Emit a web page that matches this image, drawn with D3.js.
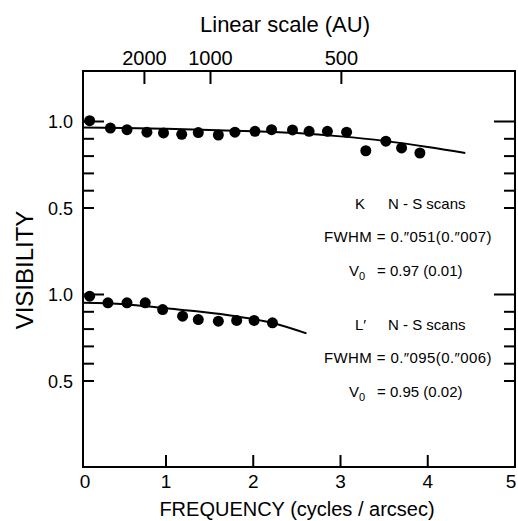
<!DOCTYPE html>
<html><head><meta charset="utf-8">
<script src="https://cdn.jsdelivr.net/npm/d3@7"></script>
<style>body{margin:0;background:#fff}svg{display:block}text{font-family:"Liberation Sans",Arial,sans-serif;fill:#000;white-space:pre}</style>
</head><body>
<script>
// ---- data ----
const freqTicks = [0, 1, 2, 3, 4, 5];
const freqInnerTicks = [1, 2, 3, 4];
const topTickLabels = ["2000", "1000", "500"];
const topTickFreqs = [0.74, 1.51, 3.01];
const visTicks = [0.5, 0.6, 0.7, 0.8, 0.9, 1.0];
const visLabels = [0.5, 1.0];

// K band N-S scans
const kFreq = [0.08,0.33,0.53,0.77,0.97,1.18,1.37,1.60,1.79,2.02,2.21,2.45,2.64,2.85,3.07,3.29,3.52,3.70,3.91];
const kVis  = [1.005,0.962,0.953,0.938,0.934,0.926,0.936,0.922,0.938,0.943,0.953,0.951,0.943,0.943,0.938,0.831,0.886,0.847,0.818];
const kFitFreq = [0,0.5,1,1.5,2,2.5,3,3.5,4,4.43];
const kFitVis  = [0.966,0.963,0.958,0.951,0.944,0.933,0.914,0.888,0.853,0.818];

// L' band N-S scans
const lFreq = [0.08,0.30,0.53,0.75,0.96,1.19,1.37,1.60,1.81,2.01,2.22];
const lVis  = [0.990,0.952,0.952,0.952,0.913,0.875,0.855,0.846,0.850,0.850,0.836];
const lFitFreq = [0,0.5,1,1.4,1.8,2.2,2.61];
const lFitVis  = [0.952,0.944,0.920,0.900,0.874,0.838,0.775];

// ---- layout ----
const W = 518, H = 521;
const L = 83, R = 515, T = 71, B = 467;

const svg = d3.select("body").append("svg").attr("width", W).attr("height", H);

const x = d3.scaleLinear().domain([0, 1, 5]).range([L, 166, R]);
const yUp = d3.scaleLinear().domain([0.5, 1.0]).range([208, 121.5]);
const yLo = d3.scaleLinear().domain([0.5, 1.0]).range([381, 294.5]);

// frame
svg.append("rect").attr("x", L).attr("y", T).attr("width", R - L).attr("height", B - T)
  .attr("fill", "none").attr("stroke", "#000").attr("stroke-width", 2);

// bottom ticks
svg.append("g").selectAll("line").data(freqInnerTicks).join("line")
  .attr("x1", d => x(d)).attr("x2", d => x(d)).attr("y1", B).attr("y2", B - 12)
  .attr("stroke", "#000").attr("stroke-width", 2);
svg.append("g").selectAll("text").data(freqTicks).join("text")
  .attr("x", d => x(d) + (d === 0 ? 2 : d === 5 ? -4 : 0)).attr("y", 488).attr("text-anchor", "middle")
  .style("font-size", "19px").text(d => d);

// top ticks
svg.append("g").selectAll("line").data(topTickFreqs).join("line")
  .attr("x1", d => x(d)).attr("x2", d => x(d)).attr("y1", T).attr("y2", T + 13)
  .attr("stroke", "#000").attr("stroke-width", 2);
svg.append("g").selectAll("text").data(topTickFreqs).join("text")
  .attr("x", d => x(d)).attr("y", 65).attr("text-anchor", "middle")
  .style("font-size", "20px").text((d, i) => topTickLabels[i]);
svg.append("text").attr("x", 285).attr("y", 32).attr("text-anchor", "middle")
  .style("font-size", "22px").text("Linear scale (AU)");

// y ticks for both panels, both sides
[yUp, yLo].forEach(y => {
  const g = svg.append("g");
  visTicks.forEach(v => {
    const len = v === 1.0 ? 21 : 11;
    g.append("line").attr("x1", L).attr("x2", L + len).attr("y1", y(v)).attr("y2", y(v))
      .attr("stroke", "#000").attr("stroke-width", 2);
    g.append("line").attr("x1", R).attr("x2", R - len).attr("y1", y(v)).attr("y2", y(v))
      .attr("stroke", "#000").attr("stroke-width", 2);
  });
  g.selectAll("text").data(visLabels).join("text")
    .attr("x", 73).attr("y", d => y(d) + 6.5).attr("text-anchor", "end")
    .style("font-size", "18px").text(d => d.toFixed(1));
});

// axis titles
svg.append("text").attr("transform", "translate(33,270) rotate(-90)").attr("text-anchor", "middle")
  .style("font-size", "24px").text("VISIBILITY");
svg.append("text").attr("x", 297).attr("y", 516).attr("text-anchor", "middle")
  .style("font-size", "20px").text("FREQUENCY (cycles / arcsec)");

// fits
const line = y => d3.line().x(d => x(d[0])).y(d => y(d[1])).curve(d3.curveMonotoneX);
svg.append("path").datum(kFitFreq.map((f, i) => [f, kFitVis[i]]))
  .attr("d", line(yUp)).attr("fill", "none").attr("stroke", "#000").attr("stroke-width", 2);
svg.append("path").datum(lFitFreq.map((f, i) => [f, lFitVis[i]]))
  .attr("d", line(yLo)).attr("fill", "none").attr("stroke", "#000").attr("stroke-width", 2);

// points
svg.append("g").selectAll("circle").data(kFreq.map((f, i) => [f, kVis[i]])).join("circle")
  .attr("cx", d => x(d[0])).attr("cy", d => yUp(d[1])).attr("r", 5.5).attr("fill", "#000");
svg.append("g").selectAll("circle").data(lFreq.map((f, i) => [f, lVis[i]])).join("circle")
  .attr("cx", d => x(d[0])).attr("cy", d => yLo(d[1])).attr("r", 5.5).attr("fill", "#000");

// annotations
const ann = svg.append("g").style("font-size", "15px");
function block(band, fwhm, v0, y0) {
  ann.append("text").attr("x", 355).attr("y", y0).text(band);
  ann.append("text").attr("x", 388).attr("y", y0).text("N - S scans");
  ann.append("text").attr("x", 324).attr("y", y0 + 33)
    .style("letter-spacing", "0.4px")
    .text("FWHM = " + fwhm);
  const t = ann.append("text").attr("x", 349).attr("y", y0 + 67);
  t.append("tspan").text("V");
  t.append("tspan").attr("dy", 4).style("font-size", "11px").text("0");
  t.append("tspan").attr("dy", -4).attr("x", 377).text("= " + v0);
}
block("K", "0.\u2033051(0.\u2033007)", "0.97 (0.01)", 209);
block("L\u2032", "0.\u2033095(0.\u2033006)", "0.95 (0.02)", 330);
</script>
</body></html>
